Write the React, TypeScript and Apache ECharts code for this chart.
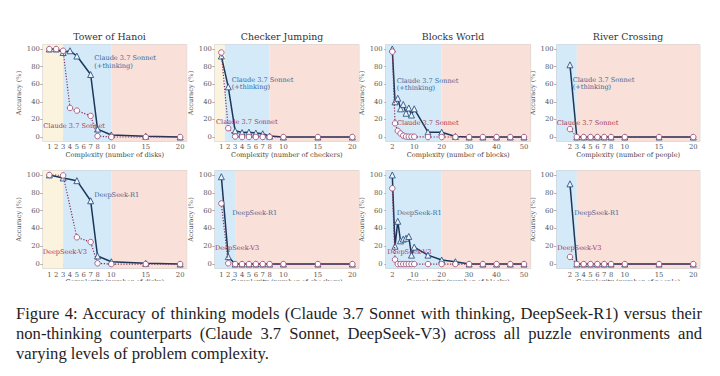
import React, { useEffect, useRef } from "react";
import * as echarts from "echarts";

// ---------- data ----------
const hanoiXTop = [1, 2, 3, 4, 5, 7, 8, 10, 15, 20];
const hanoiClaudeThinking = [100, 100, 96, 98, 92, 71, 9, 2.3, 0.8, 0];
const hanoiClaude = [100, 100, 98, 33, 30, 24, 1, 0, 0, 0];
const hanoiXBottom = [1, 3, 5, 7, 8, 10, 15, 20];
const hanoiR1 = [100, 96.6, 93.6, 71, 9, 2.6, 0.8, 0];
const hanoiV3 = [100, 99.5, 30, 24.7, 0.8, 0, 0, 0];

const checkerX = [1, 2, 3, 4, 5, 6, 7, 8, 10, 15, 20];
const checkerClaudeThinking = [92, 57, 7, 5, 5.5, 4.5, 3.7, 1, 0, 0, 0];
const checkerClaude = [96, 10, 0.5, 0, 0, 0, 0, 0, 0, 0, 0];
const checkerR1 = [98, 8.3, 0, 0, 0, 0, 0, 0, 0, 0, 0];
const checkerV3 = [68, 0.8, 0, 0, 0, 0, 0, 0, 0, 0, 0];

const blocksX = [2, 3, 4, 5, 6, 7, 8, 9, 10, 15, 20, 25, 30, 35, 40, 45, 50];
const blocksClaudeThinking = [100, 40, 44, 32, 37, 27, 33, 25, 32, 5.5, 5.5, 0.6, 0, 0, 0, 0, 0];
const blocksClaude = [97, 15.5, 7, 4, 1.5, 0.5, 0.3, 0.3, 0.3, 0, 0, 0, 0, 0, 0, 0, 0];
const blocksR1 = [100, 20, 48, 26, 28, 29, 31, 10, 19, 10, 4.5, 2.6, 0, 0, 0, 0, 0];
const blocksV3 = [85, 5, 0, 0, 0, 0, 0, 0, 0, 0, 0, 0, 0, 0, 0, 0, 0];

const riverX = [2, 3, 4, 5, 6, 7, 8, 10, 15, 20];
const riverClaudeThinking = [82, 0, 0, 0, 0, 0, 0, 0, 0, 0];
const riverClaude = [9, 0, 0, 0, 0, 0, 0, 0, 0, 0];
const riverR1 = [90, 0, 0, 0, 0, 0, 0, 0, 0, 0];
const riverV3 = [8, 0, 0, 0, 0, 0, 0, 0, 0, 0];

const titles = ["Tower of Hanoi", "Checker Jumping", "Blocks World", "River Crossing"];
const xNames = [
  "Complexity (number of disks)",
  "Complexity (number of checkers)",
  "Complexity (number of blocks)",
  "Complexity (number of people)",
];
const smallTicks = [1, 2, 3, 4, 5, 6, 7, 8, 10, 15, 20];
const riverTicks = [2, 3, 4, 5, 6, 7, 8, 10, 15, 20];
const blocksTicks = [2, 10, 20, 30, 40, 50];
const yTicks = [0, 20, 40, 60, 80, 100];

const captionLines = [
  "Figure 4: Accuracy of thinking models (Claude 3.7 Sonnet with thinking, DeepSeek-R1) versus their",
  "non-thinking counterparts (Claude 3.7 Sonnet, DeepSeek-V3) across all puzzle environments and",
  "varying levels of problem complexity.",
];

// ---------- style ----------
const FONT = "DejaVu Serif";
const YELLOW = "#fcf3df";
const BLUE = "#d5eaf9";
const PINK = "#f9e1d9";
const THINK_LINE = "#1b3658";
const THINK_EDGE = "#2d5585";
const NON_LINE = "#83305f";
const NON_EDGE = "#a4527c";
const LABEL_BLUE = "#35679a";
const LABEL_RED = "#a1365f";

const lefts = [42.8, 214.8, 385.7, 556.6];
const widths = [143.9, 144.1, 144.9, 143.2];
const rowTop = [44.6, 170.5];
const rowH = [96.8, 98];

type Panel = {
  col: number;
  row: number;
  xs: number[];
  think: number[];
  non: number[];
  ticks: number[];
  xmin: number;
  xmax: number;
  bands: [number, number, string][];
};

const panels: Panel[] = [
  { col: 0, row: 0, xs: hanoiXTop, think: hanoiClaudeThinking, non: hanoiClaude, ticks: smallTicks, xmin: 0.05, xmax: 20.95,
    bands: [[0.05, 3, YELLOW], [3, 10, BLUE], [10, 20.95, PINK]] },
  { col: 1, row: 0, xs: checkerX, think: checkerClaudeThinking, non: checkerClaude, ticks: smallTicks, xmin: 0.05, xmax: 20.95,
    bands: [[0.05, 1.5, YELLOW], [1.5, 8, BLUE], [8, 20.95, PINK]] },
  { col: 2, row: 0, xs: blocksX, think: blocksClaudeThinking, non: blocksClaude, ticks: blocksTicks, xmin: -0.4, xmax: 52.4,
    bands: [[-0.4, 20, BLUE], [20, 52.4, PINK]] },
  { col: 3, row: 0, xs: riverX, think: riverClaudeThinking, non: riverClaude, ticks: riverTicks, xmin: 0.05, xmax: 20.95,
    bands: [[0.05, 3, BLUE], [3, 20.95, PINK]] },
  { col: 0, row: 1, xs: hanoiXBottom, think: hanoiR1, non: hanoiV3, ticks: smallTicks, xmin: 0.05, xmax: 20.95,
    bands: [[0.05, 3, YELLOW], [3, 10, BLUE], [10, 20.95, PINK]] },
  { col: 1, row: 1, xs: checkerX, think: checkerR1, non: checkerV3, ticks: smallTicks, xmin: 0.05, xmax: 20.95,
    bands: [[0.05, 3, BLUE], [3, 20.95, PINK]] },
  { col: 2, row: 1, xs: blocksX, think: blocksR1, non: blocksV3, ticks: blocksTicks, xmin: -0.4, xmax: 52.4,
    bands: [[-0.4, 20, BLUE], [20, 52.4, PINK]] },
  { col: 3, row: 1, xs: riverX, think: riverR1, non: riverV3, ticks: riverTicks, xmin: 0.05, xmax: 20.95,
    bands: [[0.05, 3, BLUE], [3, 20.95, PINK]] },
];

// annotation text positions (pixels): [x, y, text, color]
const annotations: [number, number, string, string][] = [
  [94.3, 65.5, "Claude 3.7 Sonnet\n(+thinking)", LABEL_BLUE],
  [43.3, 125.7, "Claude 3.7 Sonnet", LABEL_RED],
  [231.7, 86.8, "Claude 3.7 Sonnet\n(+thinking)", LABEL_BLUE],
  [216, 122, "Claude 3.7 Sonnet", LABEL_RED],
  [396.7, 87.8, "Claude 3.7 Sonnet\n(+thinking)", LABEL_BLUE],
  [397, 123.3, "Claude 3.7 Sonnet", LABEL_RED],
  [572.7, 87, "Claude 3.7 Sonnet\n(+thinking)", LABEL_BLUE],
  [556.7, 122.7, "Claude 3.7 Sonnet", LABEL_RED],
  [94.3, 195, "DeepSeek-R1", LABEL_BLUE],
  [42.7, 251.7, "DeepSeek-V3", LABEL_RED],
  [232.3, 212.7, "DeepSeek-R1", LABEL_BLUE],
  [215, 248, "DeepSeek-V3", LABEL_RED],
  [396.7, 212.7, "DeepSeek-R1", LABEL_BLUE],
  [387.3, 251.7, "DeepSeek-V3", LABEL_RED],
  [574.3, 212.7, "DeepSeek-R1", LABEL_BLUE],
  [557.3, 248, "DeepSeek-V3", LABEL_RED],
];
const titleCenters = [109.5, 282, 453, 628];

function buildOption() {
  const grid: any[] = [];
  const xAxis: any[] = [];
  const yAxis: any[] = [];
  const series: any[] = [];
  panels.forEach((p, i) => {
    grid.push({
      left: lefts[p.col],
      top: rowTop[p.row],
      width: widths[p.col],
      height: rowH[p.row],
      show: true,
      borderColor: "#bfbfbf",
      borderWidth: 0.8,
      backgroundColor: "transparent",
      containLabel: false,
      outerBoundsMode: "none",
    });
    xAxis.push({
      gridIndex: i,
      type: "value",
      min: p.xmin,
      max: p.xmax,
      axisLine: { show: false },
      splitLine: { show: false },
      axisTick: { show: true, length: 2.5, lineStyle: { color: "#777", width: 0.6 }, customValues: p.ticks },
      axisLabel: { customValues: p.ticks, fontSize: 6.8, fontFamily: FONT, color: "#555", margin: 2.5 },
      name: xNames[p.col],
      nameLocation: "middle",
      nameGap: 10,
      nameTextStyle: { fontSize: 6.6, fontFamily: FONT, color: "#444", verticalAlign: "top" },
    });
    yAxis.push({
      gridIndex: i,
      type: "value",
      min: -5,
      max: 105,
      axisLine: { show: false },
      splitLine: { show: false },
      axisTick: { show: true, length: 2.5, lineStyle: { color: "#777", width: 0.6 }, customValues: yTicks },
      axisLabel: { customValues: yTicks, fontSize: 6.8, fontFamily: FONT, color: "#555", margin: 3 },
      name: "Accuracy (%)",
      nameLocation: "middle",
      nameGap: 17,
      nameTextStyle: { fontSize: 6.6, fontFamily: FONT, color: "#555" },
    });
    // background bands
    series.push({
      type: "line",
      xAxisIndex: i,
      yAxisIndex: i,
      data: [],
      silent: true,
      z: 1,
      markArea: {
        silent: true,
        data: p.bands.map(([a, b, c]) => [{ xAxis: a, itemStyle: { color: c } }, { xAxis: b }]),
      },
    });
    series.push({
      type: "line",
      xAxisIndex: i,
      yAxisIndex: i,
      data: p.xs.map((x, k) => [x, p.think[k]]),
      symbol: "triangle",
      symbolSize: 6,
      z: 3,
      lineStyle: { color: THINK_LINE, width: 1.5 },
      itemStyle: { color: "#eef5fc", borderColor: THINK_EDGE, borderWidth: 0.9 },
    });
    series.push({
      type: "line",
      xAxisIndex: i,
      yAxisIndex: i,
      data: p.xs.map((x, k) => [x, p.non[k]]),
      symbol: "circle",
      symbolSize: 5.5,
      z: 4,
      lineStyle: { color: NON_LINE, width: 1.2, type: [1.2, 1.6] },
      itemStyle: { color: "#ffffff", borderColor: NON_EDGE, borderWidth: 0.9 },
    });
  });

  const graphic: any[] = [];
  titles.forEach((t, i) => {
    graphic.push({
      type: "text",
      x: titleCenters[i],
      y: 36,
      z: 100,
      style: { text: t, fontSize: 9.4, fontFamily: FONT, fill: "#333", align: "center", verticalAlign: "middle" },
    });
  });
  annotations.forEach(([x, y, text, color]) => {
    const lines = text.split("\n").length;
    graphic.push({
      type: "text",
      x,
      y: y - (lines - 1) * 3.65,
      z: 100,
      style: {
        text,
        fontSize: 6.6,
        lineHeight: 7.3,
        fontFamily: FONT,
        fill: color,
        align: "left",
        verticalAlign: "middle",
      },
    });
  });

  return { animation: false, grid, xAxis, yAxis, series, graphic };
}

function Chart() {
  const ref = useRef<HTMLDivElement>(null);
  useEffect(() => {
    if (!ref.current) return;
    const chart = echarts.init(ref.current, undefined, { renderer: "svg" });
    chart.setOption(buildOption() as any);
    return () => chart.dispose();
  }, []);
  return (
    <div style={{ width: 720, height: 281, overflow: "hidden" }}>
      <div ref={ref} style={{ width: 720, height: 290 }} />
    </div>
  );
}

export default function App() {
  return (
    <div style={{ position: "fixed", left: 0, top: 0, width: 720, height: 376, background: "#fff", overflow: "hidden" }}>
      <Chart />
      <div
        style={{
          position: "absolute",
          left: 16,
          top: 304,
          width: 686,
          fontFamily: '"Liberation Serif", serif',
          fontSize: 16.6,
          lineHeight: "20px",
          color: "#1e1e1e",
        }}
      >
        {captionLines.map((l, i) => (
          <div
            key={i}
            style={{
              textAlign: i < captionLines.length - 1 ? "justify" : "left",
              textAlignLast: i < captionLines.length - 1 ? "justify" : "left",
              whiteSpace: "nowrap",
            }}
          >
            {l}
          </div>
        ))}
      </div>
    </div>
  );
}
